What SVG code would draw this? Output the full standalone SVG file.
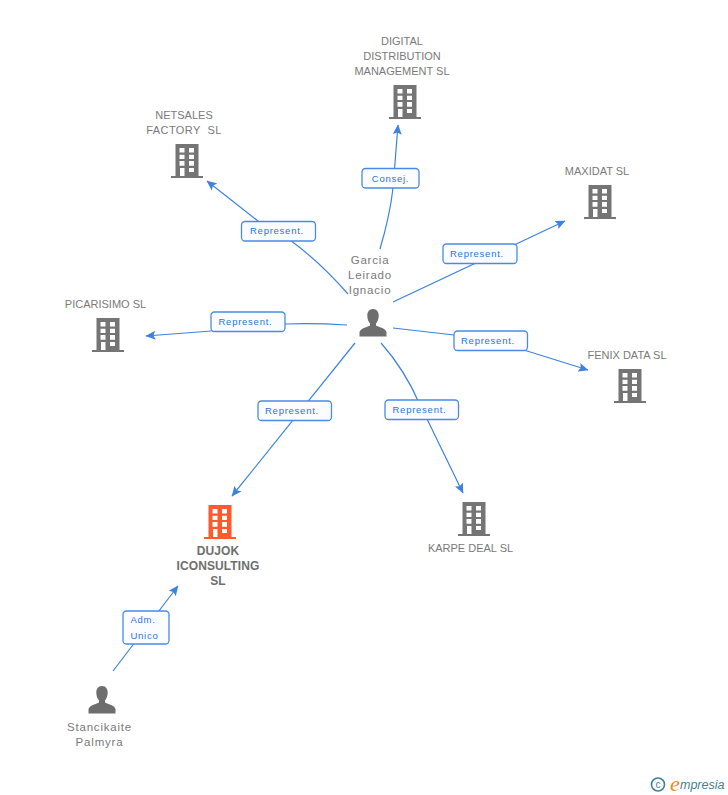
<svg xmlns="http://www.w3.org/2000/svg" xmlns:xlink="http://www.w3.org/1999/xlink" width="728" height="795" viewBox="0 0 728 795">
<style>
.n{font:11px "Liberation Sans",Arial,sans-serif;fill:#7a7a7a;text-anchor:middle}
.b{font-weight:bold;font-size:12px;fill:#6e6e6e;letter-spacing:.1px}
.p{letter-spacing:.8px;font-size:11.5px}
.c{fill:none;stroke:#3d82e0;stroke-width:1.2}
.l rect{fill:#fbfcff;stroke:#4a8ae6;stroke-width:1.3}
.l text{font:9.5px "Liberation Sans",Arial,sans-serif;fill:#2a74e0;text-anchor:middle;letter-spacing:.75px}
</style>
<defs>
<marker id="a" markerUnits="userSpaceOnUse" markerWidth="11" markerHeight="10" refX="9.5" refY="5" orient="auto"><path d="M0 .5L10 5L0 9.5L2 5Z" fill="#3d82e0"/></marker>
<symbol id="bld" width="32" height="34" viewBox="0 0 32 34" overflow="visible"><path fill-rule="evenodd" d="M4.500 0H27.500V32H32V34H0V32H4.500ZM8.500 4V8.500H13.500V4ZM18 4V8.500H23V4ZM8.500 10.700V15H13.500V10.700ZM18 10.700V15H23V10.700ZM8.500 17V21.700H13.500V17ZM18 17V21.700H23V17ZM9 24V32H13.500V24ZM18 24V28H23V24Z"/></symbol>
<symbol id="psn" width="28" height="28" viewBox="0 0 28 28"><path d="M14 0C10 0 8.300 3 8.300 6.500C8.300 10 9.500 13 11 14.500V16.500C9 18 1.500 19 .5 23V27.500H27.500V23C26.500 19 19 18 17 16.500V14.500C18.500 13 19.700 10 19.700 6.500C19.700 3 18 0 14 0Z"/></symbol>
</defs>
<g id="connectors">
<path class="c" d="M380 249Q390 215 393 188L398 125" marker-end="url(#a)"/>
<path class="c" d="M348 294Q320 262 290 240L258 221L207 181" marker-end="url(#a)"/>
<path class="c" d="M393 302L565 221" marker-end="url(#a)"/>
<path class="c" d="M347 325Q315 323 285 324L211 331L146 336" marker-end="url(#a)"/>
<path class="c" d="M393 328L454 335L527 351L588 370" marker-end="url(#a)"/>
<path class="c" d="M355 343L232 496" marker-end="url(#a)"/>
<path class="c" d="M381 343Q405 370 420 405L427 419L463 493" marker-end="url(#a)"/>
<path class="c" d="M113 671L178 586" marker-end="url(#a)"/>
</g>
<g id="labels" class="l">
<g><rect x="362" y="168.500" width="57" height="19.500" rx="3.500"/><text x="390.500" y="182">Consej.</text></g>
<g><rect x="241.500" y="221.500" width="74" height="19.500" rx="3.500"/><text x="277" y="234">Represent.</text></g>
<g><rect x="443" y="244" width="74" height="19.500" rx="3.500"/><text x="477" y="257">Represent.</text></g>
<g><rect x="211" y="312" width="74" height="19.500" rx="3.500"/><text x="245.500" y="325">Represent.</text></g>
<g><rect x="454" y="331" width="73.500" height="19.500" rx="3.500"/><text x="488" y="344">Represent.</text></g>
<g><rect x="258" y="401" width="73.500" height="19.500" rx="3.500"/><text x="292" y="414">Represent.</text></g>
<g><rect x="385" y="400" width="73.500" height="19.500" rx="3.500"/><text x="419.500" y="413">Represent.</text></g>
<g><rect x="123" y="611" width="46" height="33" rx="3.500"/><text x="143" y="623">Adm.</text><text x="144.500" y="638.500">Unico</text></g>
</g>
<g id="digital"><use xlink:href="#bld" href="#bld" x="389" y="85" fill="#757575"/><text class="n"><tspan x="402" y="45">DIGITAL</tspan><tspan x="402" y="60">DISTRIBUTION</tspan><tspan x="402" y="75">MANAGEMENT SL</tspan></text></g>
<g id="netsales"><use xlink:href="#bld" href="#bld" x="171" y="144" fill="#757575"/><text class="n" xml:space="preserve"><tspan x="184" y="119">NETSALES</tspan><tspan x="184" y="134" letter-spacing=".4">FACTORY  SL</tspan></text></g>
<g id="maxidat"><use xlink:href="#bld" href="#bld" x="584" y="185" fill="#757575"/><text class="n" x="597" y="175">MAXIDAT SL</text></g>
<g id="picarisimo"><use xlink:href="#bld" href="#bld" x="92" y="318" fill="#757575"/><text class="n" x="105.500" y="308">PICARISIMO SL</text></g>
<g id="fenix"><use xlink:href="#bld" href="#bld" x="614" y="369" fill="#757575"/><text class="n" x="627" y="359">FENIX DATA SL</text></g>
<g id="karpe"><use xlink:href="#bld" href="#bld" x="458" y="502" fill="#757575"/><text class="n" x="470.500" y="552">KARPE DEAL SL</text></g>
<g id="dujok"><use xlink:href="#bld" href="#bld" x="204" y="505" fill="#ff5a2e"/><text class="n b"><tspan x="218" y="555">DUJOK</tspan><tspan x="218" y="570">ICONSULTING</tspan><tspan x="218" y="585">SL</tspan></text></g>
<g id="garcia"><use xlink:href="#psn" href="#psn" x="359" y="309" fill="#6e6e6e"/><text class="n p"><tspan x="370" y="264">Garcia</tspan><tspan x="370" y="279">Leirado</tspan><tspan x="370" y="294">Ignacio</tspan></text></g>
<g id="stancikaite"><use xlink:href="#psn" href="#psn" x="88" y="686" fill="#6e6e6e"/><text class="n p"><tspan x="99.500" y="731">Stancikaite</tspan><tspan x="99.500" y="746">Palmyra</tspan></text></g>
<g id="logo"><circle cx="658" cy="784.500" r="6.500" fill="none" stroke="#3f7f95" stroke-width="1.600"/><text x="658" y="788" font-family="Liberation Sans,sans-serif" font-size="10" fill="#3f7f95" text-anchor="middle">c</text><text x="670" y="791" font-family="Liberation Serif,serif" font-style="italic" font-size="22" fill="#f08a1d">e</text><text x="680" y="789" font-family="Liberation Sans,sans-serif" font-style="italic" font-size="12.500" fill="#3f7f95">mpresia</text></g>
</svg>
